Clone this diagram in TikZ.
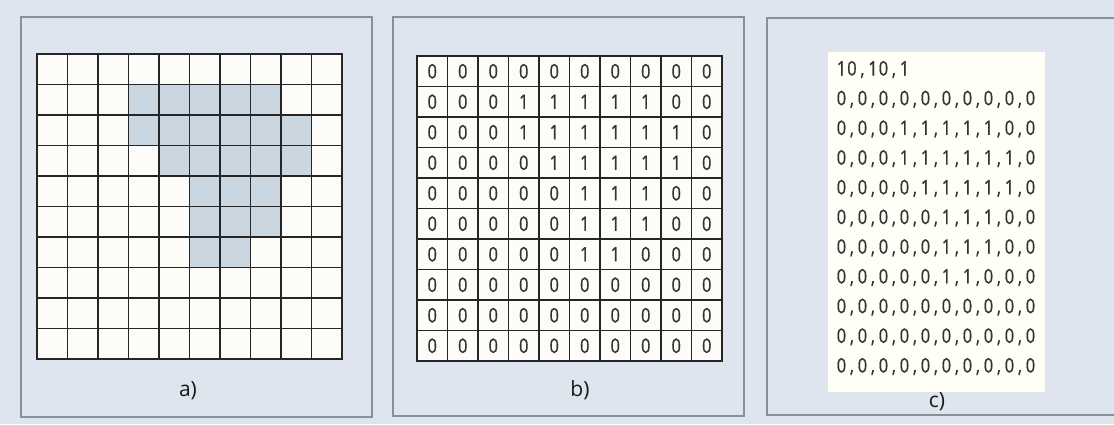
\documentclass[tikz,border=0pt]{standalone}
\usepackage{fontspec}
\setmainfont{Open Sans}
\newfontfamily\digitfont[FakeStretch=0.82,FakeBold=0.6]{Open Sans}

\definecolor{pagebg}{HTML}{DEE5EE}
\definecolor{panelline}{HTML}{87919B}
\definecolor{cellwhite}{HTML}{FDFCF9}
\definecolor{cellblue}{HTML}{CBD7E0}
\definecolor{gridink}{HTML}{262626}
\definecolor{digitink}{HTML}{333333}

% one character per fixed-width box
\newcommand\spacedrow[1]{\expandafter\spacedloop#1\relax}
\def\spacedloop#1{\ifx#1\relax\else\makebox[10.5pt]{#1}\expandafter\spacedloop\fi}

% the 10x10 shape, row by row
\def\shaperows{{0,0,0,0,0,0,0,0,0,0},{0,0,0,1,1,1,1,1,0,0},{0,0,0,1,1,1,1,1,1,0},
  {0,0,0,0,1,1,1,1,1,0},{0,0,0,0,0,1,1,1,0,0},{0,0,0,0,0,1,1,1,0,0},
  {0,0,0,0,0,1,1,0,0,0},{0,0,0,0,0,0,0,0,0,0},{0,0,0,0,0,0,0,0,0,0},
  {0,0,0,0,0,0,0,0,0,0}}

\begin{document}
\begin{tikzpicture}[
      x=1pt, y=-1pt,
      panel/.style={draw=panelline, line width=1.4pt},
      gridrule/.style={draw=gridink, line width=1.9pt},
      gridframe/.style={draw=gridink, line width=2.8pt},
      cellnum/.style={inner sep=0pt, font=\digitfont\fontsize{20}{20}\selectfont, text=digitink},
      rowtext/.style={inner sep=0pt, font=\digitfont\fontsize{20}{20}\selectfont, text=digitink},
      caption/.style={inner sep=0pt, font=\fontsize{21}{21}\selectfont, text=black!90}
    ]
    \useasboundingbox (0,0) rectangle (1114,424);
    \fill[pagebg] (0,0) rectangle (1114,424);

    % panels
    \draw[panel] (21,17) rectangle (372,417);
    \draw[panel] (393,17) rectangle (744,416);
    \draw[panel] (767,18) rectangle (1130,415);
    \fill[white!97!yellow] (828,52) rectangle (1045,392);

    % cells of a) and b), rows of c)
    \node[rowtext, anchor=base west] (c-head) at (836,75.5) {\spacedrow{10,10,1}};
    \foreach \row [count=\j from 0] in \shaperows {
      \foreach \v [count=\i from 0] in \row {
        \ifnum\v=1
          \fill[cellblue] (37+30.5*\i,54+30.5*\j) rectangle ++(30.5,30.5);
        \else
          \fill[cellwhite] (37+30.5*\i,54+30.5*\j) rectangle ++(30.5,30.5);
        \fi
        \fill[cellwhite] (417+30.5*\i,56+30.5*\j) rectangle ++(30.5,30.5);
        \node[cellnum] (b-\j-\i) at (432.25+30.5*\i,71.25+30.5*\j) {\v};
      }
      \node[rowtext, anchor=base west] (c-row-\j) at (836,105.2+29.7*\j) {\spacedrow{\row}};
    }

    % grid rules
    \foreach \k in {1,...,9} {
      \draw[gridrule] (37+30.5*\k,54) -- (37+30.5*\k,359);
      \draw[gridrule] (37,54+30.5*\k) -- (342,54+30.5*\k);
      \draw[gridrule] (417+30.5*\k,56) -- (417+30.5*\k,361);
      \draw[gridrule] (417,56+30.5*\k) -- (722,56+30.5*\k);
    }
    \draw[gridframe] (37,54) rectangle (342,359);
    \draw[gridframe] (417,56) rectangle (722,361);

    % captions
    \node[caption] (cap-a) at (188,391) {a)};
    \node[caption] (cap-b) at (580,390) {b)};
    \node[caption] (cap-c) at (937,402) {c)};
  \end{tikzpicture}
\end{document}
